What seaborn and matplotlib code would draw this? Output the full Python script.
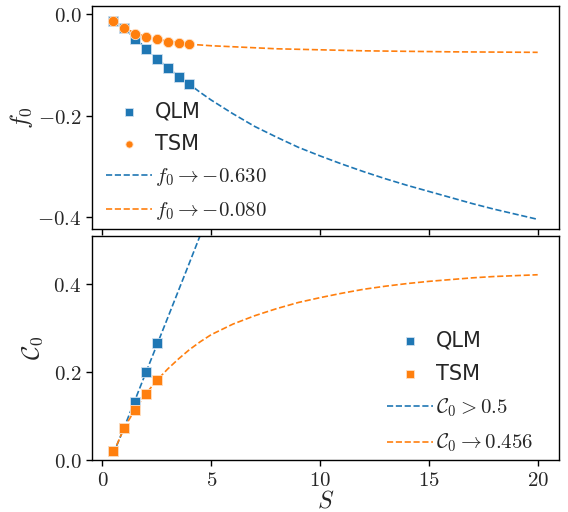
import matplotlib
matplotlib.use("Agg")
import matplotlib.pyplot as plt
from matplotlib.ticker import FuncFormatter, FixedLocator
import seaborn as sns

sns.set_style("ticks")
plt.rcParams["font.family"] = ["DejaVu Sans"]
plt.rcParams["mathtext.fontset"] = "cm"

BLUE = "#1f77b4"
ORANGE = "#ff7f0e"

# sampled system sizes
S_qlm_f = [0.5, 1.0, 1.5, 2.0, 2.5, 3.0, 3.5, 4.0]
f0_qlm = [-0.013, -0.027, -0.048, -0.069, -0.088, -0.106, -0.123, -0.138]
S_tsm_f = [0.5, 1.0, 1.5, 2.0, 2.5, 3.0, 3.5, 4.0]
f0_tsm = [-0.013, -0.028, -0.038, -0.044, -0.049, -0.054, -0.056, -0.059]

# extrapolated f0 curves
S_fit_qlm_f = [0.5, 1.0, 1.5, 2.0, 2.5, 3.0, 3.5, 4.0, 4.5, 5, 6, 7, 8, 9, 10, 11, 12, 13, 14,
               15, 16, 17, 18, 19, 20]
f0_fit_qlm = [-0.011, -0.028, -0.047, -0.067, -0.087, -0.105, -0.122, -0.138, -0.154, -0.169,
              -0.196, -0.221, -0.242, -0.262, -0.279, -0.295, -0.310, -0.324, -0.337,
              -0.349, -0.361, -0.373, -0.384, -0.394, -0.404]
S_fit_tsm_f = [0.5, 1.0, 1.5, 2.0, 2.5, 3.0, 3.5, 4.0, 5, 6, 7, 8, 10, 12, 14, 16, 18, 20]
f0_fit_tsm = [-0.013, -0.027, -0.037, -0.044, -0.049, -0.053, -0.056, -0.059, -0.062, -0.064,
              -0.066, -0.068, -0.070, -0.072, -0.073, -0.074, -0.0745, -0.075]

S_qlm_c = [0.5, 1.0, 1.5, 2.0, 2.5]
c0_qlm = [0.019, 0.072, 0.131, 0.199, 0.265]
S_tsm_c = [0.5, 1.0, 1.5, 2.0, 2.5]
c0_tsm = [0.019, 0.072, 0.114, 0.150, 0.180]

S_fit_qlm_c = [0.5, 1.0, 2.0, 3.0, 4.0, 4.5]
c0_fit_qlm = [0.013, 0.073, 0.198, 0.322, 0.447, 0.510]
S_fit_tsm_c = [0.5, 1.0, 1.5, 2.0, 2.5, 3.0, 3.5, 4.0, 4.5, 5, 6, 7, 8, 9, 10, 11, 12, 13, 14,
               15, 16, 17, 18, 19, 20]
c0_fit_tsm = [0.015, 0.072, 0.114, 0.150, 0.180, 0.206, 0.229, 0.250, 0.268, 0.284, 0.308,
              0.327, 0.343, 0.357, 0.368, 0.378, 0.387, 0.394, 0.400, 0.405, 0.409, 0.413,
              0.416, 0.418, 0.420]

lab_f_qlm = r"$f_0 \rightarrow {-}0.630$"
lab_f_tsm = r"$f_0 \rightarrow {-}0.080$"
lab_c_qlm = r"$\mathcal{C}_0 > 0.5$"
lab_c_tsm = r"$\mathcal{C}_0 \rightarrow 0.456$"

fig, (ax1, ax2) = plt.subplots(2, 1, sharex=True, figsize=(5.68, 5.12), dpi=100)
fig.subplots_adjust(left=0.162, right=0.984, top=0.988, bottom=0.102, hspace=0.031)

# ---- top panel: f0 ----
sns.scatterplot(x=S_qlm_f, y=f0_qlm, ax=ax1, marker="s", color=BLUE, s=55,
                edgecolor="#cfe0ef", linewidth=0.6, label="QLM", zorder=3)
sns.scatterplot(x=S_tsm_f, y=f0_tsm, ax=ax1, marker="o", color=ORANGE, s=55,
                edgecolor="#ffe0c4", linewidth=0.6, label="TSM", zorder=3)
sns.lineplot(x=S_fit_qlm_f, y=f0_fit_qlm, ax=ax1, color=BLUE, linestyle="--", lw=1.2,
             label=lab_f_qlm, sort=False)
sns.lineplot(x=S_fit_tsm_f, y=f0_fit_tsm, ax=ax1, color=ORANGE, linestyle="--", lw=1.2,
             label=lab_f_tsm, sort=False)
ax1.set_ylim(-0.424, 0.016)
ax1.set_ylabel(r"$f_0$", fontsize=18, labelpad=2)
ax1.yaxis.set_major_locator(FixedLocator([-0.4, -0.2, 0.0]))
ax1.legend(loc="lower left", bbox_to_anchor=(-0.01, -0.05), frameon=False, fontsize=15,
           handlelength=2.2, handletextpad=0.15, markerscale=0.7, labelspacing=0.58)

# ---- bottom panel: C0 ----
sns.scatterplot(x=S_qlm_c, y=c0_qlm, ax=ax2, marker="s", color=BLUE, s=55,
                edgecolor="#cfe0ef", linewidth=0.6, label="QLM", zorder=3)
sns.scatterplot(x=S_tsm_c, y=c0_tsm, ax=ax2, marker="s", color=ORANGE, s=55,
                edgecolor="#ffe0c4", linewidth=0.6, label="TSM", zorder=3)
sns.lineplot(x=S_fit_qlm_c, y=c0_fit_qlm, ax=ax2, color=BLUE, linestyle="--", lw=1.2,
             label=lab_c_qlm, sort=False)
sns.lineplot(x=S_fit_tsm_c, y=c0_fit_tsm, ax=ax2, color=ORANGE, linestyle="--", lw=1.2,
             label=lab_c_tsm, sort=False)
ax2.set_ylim(0.0, 0.507)
ax2.set_xlim(-0.475, 20.975)
ax2.set_ylabel(r"$\mathcal{C}_0$", fontsize=18, labelpad=6)
ax2.set_xlabel(r"$S$", fontsize=17, labelpad=-1)
ax2.yaxis.set_major_locator(FixedLocator([0.0, 0.2, 0.4]))
ax2.xaxis.set_major_locator(FixedLocator([0, 5, 10, 15, 20]))
ax2.legend(loc="lower right", bbox_to_anchor=(0.985, -0.06), frameon=False, fontsize=15,
           handlelength=2.2, handletextpad=0.15, markerscale=0.7, labelspacing=0.62)

fmt_y = FuncFormatter(lambda v, p: r"$%.1f$" % v)
fmt_x = FuncFormatter(lambda v, p: r"$%d$" % v)
for ax in (ax1, ax2):
    ax.yaxis.set_major_formatter(fmt_y)
    ax.tick_params(labelsize=15, length=4, width=1, color="black")
    for sp in ax.spines.values():
        sp.set_visible(True)
        sp.set_color("black")
        sp.set_linewidth(1.0)
ax2.xaxis.set_major_formatter(fmt_x)

fig.savefig("out.png", dpi=100)
